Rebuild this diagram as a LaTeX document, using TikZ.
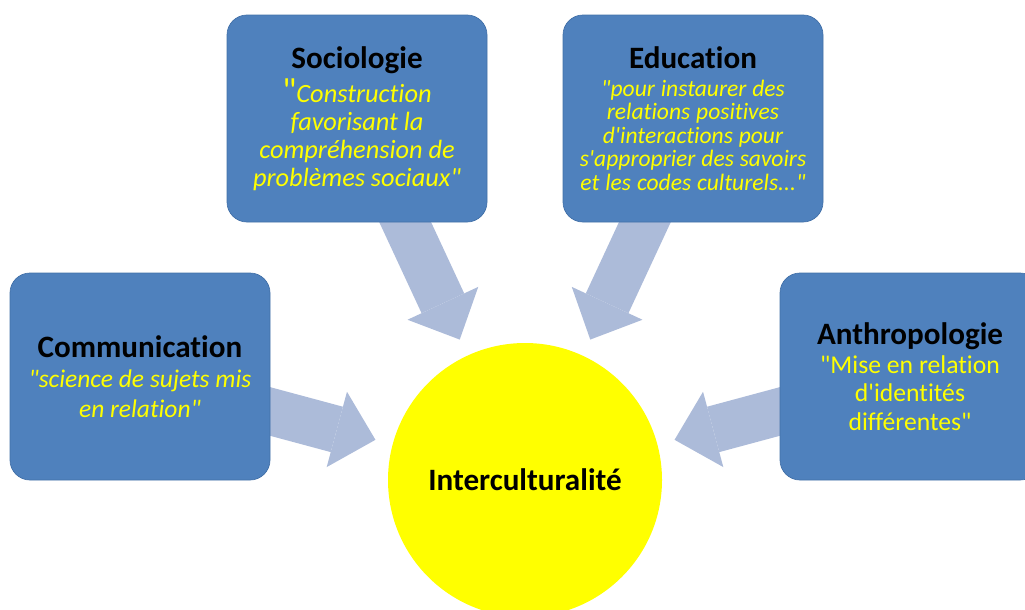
\documentclass[tikz,border=0pt]{standalone}
\usepackage{fontspec}
\setmainfont{Carlito}[Ligatures={NoCommon}]
\usepackage{tikz}
\usetikzlibrary{arrows.meta,backgrounds}
\definecolor{boxblue}{RGB}{79,129,189}
\definecolor{boxedge}{RGB}{66,112,168}
\definecolor{arrowgrey}{RGB}{172,187,217}
\definecolor{hubyellow}{RGB}{255,255,0}
\tikzstyle{field} = [rectangle,rounded corners=0.4cm,fill=boxblue,draw=boxedge,minimum width=5.2cm,minimum height=4.14cm,text width=5.1cm,align=center,inner sep=0pt]
\tikzstyle{hub} = [circle,fill=hubyellow,minimum size=5.48cm,inner sep=0pt,font=\fontsize{17.7}{20}\selectfont\bfseries]
\tikzstyle{flow} = [line width=0.94cm,arrowgrey,-{Triangle[width=1.56cm,length=0.8cm,line width=0pt]},shorten <=-0.4cm,shorten >=0.35cm]
\newcommand{\head}[1]{{\fontsize{17.7}{20}\selectfont\bfseries #1\par}}
\newcommand{\gloss}[3]{{\color{hubyellow}\fontsize{#1}{#2}\selectfont #3\par}}
\newcommand{\apo}{\textquotesingle}
\newcommand{\qt}{\textquotedbl}

\begin{document}
\begin{tikzpicture}
	\useasboundingbox (0,0) rectangle (20.5,-12.18);
	% disciplines
	\node[field] (soc) at (7.14,-2.37) {\head{Sociologie}\vspace{2pt}\gloss{15}{15.8}{{\fontsize{20}{20}\selectfont\qt}\itshape Construction\\ favorisant la\\ compréhension de\\ problèmes sociaux\qt}};
	\node[field] (edu) at (13.86,-2.37) {\head{Education}\vspace{2.5pt}\gloss{13.4}{13.4}{\itshape \qt pour instaurer des\\ relations positives\\ d\apo interactions pour\\ s\apo approprier des savoirs\\ et les codes culturels...\qt}};
	\node[field] (com) at (2.8,-7.53) {\head{Communication}\gloss{14.5}{17}{\itshape \qt science de sujets mis\\ en relation\qt}};
	\node[field] (anth) at (18.2,-7.53) {\head{Anthropologie}\gloss{14.6}{16.2}{\qt Mise en relation\\ d\apo identités\\ différentes\qt}};
	% centre
	\node[hub] (inter) at (10.5,-9.6) {Interculturalité};
	\begin{scope}[on background layer]
		\draw[flow] (soc) -- (inter);
		\draw[flow] (edu) -- (inter);
		\draw[flow] (com) -- (inter);
		\draw[flow] (anth) -- (inter);
	\end{scope}
\end{tikzpicture}
\end{document}
